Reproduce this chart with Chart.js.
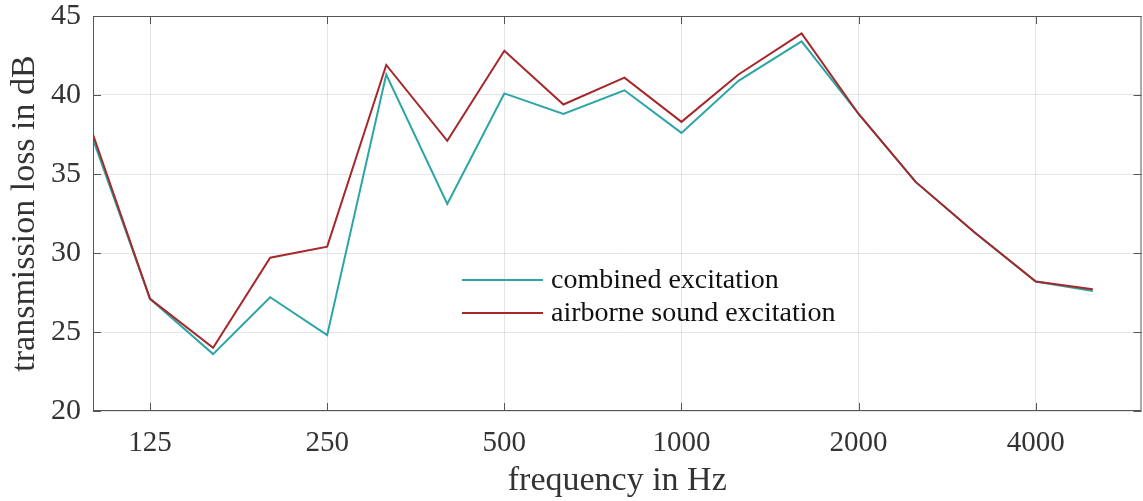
<!DOCTYPE html>
<html>
<head>
<meta charset="utf-8">
<script src="https://cdn.jsdelivr.net/npm/chart.js@4/dist/chart.umd.min.js"></script>
<style>
  html, body { margin: 0; padding: 0; background: #fff; }
  canvas { display: block; }
</style>
</head>
<body>
<canvas id="tlChart" width="1143" height="501"></canvas>
<script>
// third-octave band centre frequencies in Hz
const frequencies = [100, 125, 160, 200, 250, 315, 400, 500, 630, 800, 1000, 1250, 1600, 2000, 2500, 3150, 4000, 5000];
// transmission loss in dB
const combinedExcitation = [37.2, 27.1, 23.6, 27.2, 24.8, 41.3, 33.1, 40.1, 38.8, 40.3, 37.6, 40.9, 43.4, 38.8, 34.5, 31.3, 28.2, 27.6];
const airborneExcitation = [37.5, 27.1, 24.0, 29.7, 30.4, 41.9, 37.1, 42.8, 39.4, 41.1, 38.3, 41.3, 43.9, 38.8, 34.5, 31.3, 28.2, 27.7];
const seriesLabels = ['combined excitation', 'airborne sound excitation'];
const xTickValues = [125, 250, 500, 1000, 2000, 4000];

const serif = "'Liberation Serif', 'Times New Roman', serif";
const toPoints = (ys) => frequencies.map((f, i) => ({ x: f, y: ys[i] }));

// MATLAB-like box with inward ticks, plus the legend inside the plot
const boxAndLegend = {
    id: 'boxAndLegend',
    afterDraw(chart) {
        const { ctx, chartArea: a, scales } = chart;
        ctx.save();
        ctx.strokeStyle = '#555';
        ctx.lineWidth = 1;
        ctx.strokeRect(a.left + 0.5, a.top + 0.5, a.right - a.left - 1, a.bottom - a.top - 1);
        const tl = 8;
        ctx.beginPath();
        scales.x.ticks.forEach(t => {
            const px = Math.round(scales.x.getPixelForValue(t.value)) + 0.5;
            ctx.moveTo(px, a.bottom); ctx.lineTo(px, a.bottom - tl);
            ctx.moveTo(px, a.top); ctx.lineTo(px, a.top + tl);
        });
        scales.y.ticks.forEach(t => {
            const py = Math.round(scales.y.getPixelForValue(t.value)) + 0.5;
            ctx.moveTo(a.left, py); ctx.lineTo(a.left + tl, py);
            ctx.moveTo(a.right, py); ctx.lineTo(a.right - tl, py);
        });
        ctx.stroke();

        // legend
        const lx = a.left + 369;
        let ly = a.top + 264;
        ctx.font = '28px ' + serif;
        ctx.textBaseline = 'middle';
        ctx.textAlign = 'left';
        chart.data.datasets.forEach(ds => {
            ctx.strokeStyle = ds.borderColor;
            ctx.lineWidth = 2;
            ctx.beginPath();
            ctx.moveTo(lx, ly); ctx.lineTo(lx + 81, ly);
            ctx.stroke();
            ctx.fillStyle = '#111';
            ctx.fillText(ds.label, lx + 89, ly + 1);
            ly += 33;
        });
        ctx.restore();
    }
};

new Chart(document.getElementById('tlChart').getContext('2d'), {
    type: 'line',
    data: {
        datasets: [
            {
                label: seriesLabels[0],
                data: toPoints(combinedExcitation),
                borderColor: '#2ca6a4',
                borderWidth: 2,
                pointRadius: 0,
                tension: 0,
                order: 1
            },
            {
                label: seriesLabels[1],
                data: toPoints(airborneExcitation),
                borderColor: '#a5282b',
                borderWidth: 2,
                pointRadius: 0,
                tension: 0,
                order: 0
            }
        ]
    },
    options: {
        responsive: false,
        animation: false,
        layout: { padding: { top: 16, right: 1.5, left: 0, bottom: 0 } },
        plugins: {
            legend: { display: false },
            tooltip: { enabled: false }
        },
        scales: {
            x: {
                type: 'logarithmic',
                min: 100,
                max: 6050,
                afterBuildTicks: (scale) => { scale.ticks = xTickValues.map(v => ({ value: v })); },
                afterFit: (scale) => {
                    scale.height = 90;
                    scale.paddingLeft = 0;
                    scale.paddingRight = 0;
                },
                grid: { color: 'rgba(0,0,0,0.1)', drawTicks: false },
                border: { display: false },
                ticks: {
                    autoSkip: false,
                    maxRotation: 0,
                    padding: 15,
                    color: '#333',
                    font: { family: serif, size: 29 },
                    callback: (v) => String(v)
                },
                title: {
                    display: true,
                    text: 'frequency in Hz',
                    color: '#333',
                    font: { family: serif, size: 34 },
                    padding: { top: 0, bottom: 0 }
                }
            },
            y: {
                min: 20,
                max: 45,
                afterFit: (scale) => {
                    scale.width = 93;
                    scale.paddingTop = 0;
                    scale.paddingBottom = 0;
                },
                grid: { color: 'rgba(0,0,0,0.1)', drawTicks: false },
                border: { display: false },
                ticks: {
                    stepSize: 5,
                    padding: 12,
                    color: '#333',
                    font: { family: serif, size: 30 }
                },
                title: {
                    display: true,
                    text: 'transmission loss in dB',
                    color: '#333',
                    font: { family: serif, size: 34 },
                    padding: { top: 5, bottom: 0 }
                }
            }
        }
    },
    plugins: [boxAndLegend]
});
</script>
</body>
</html>
